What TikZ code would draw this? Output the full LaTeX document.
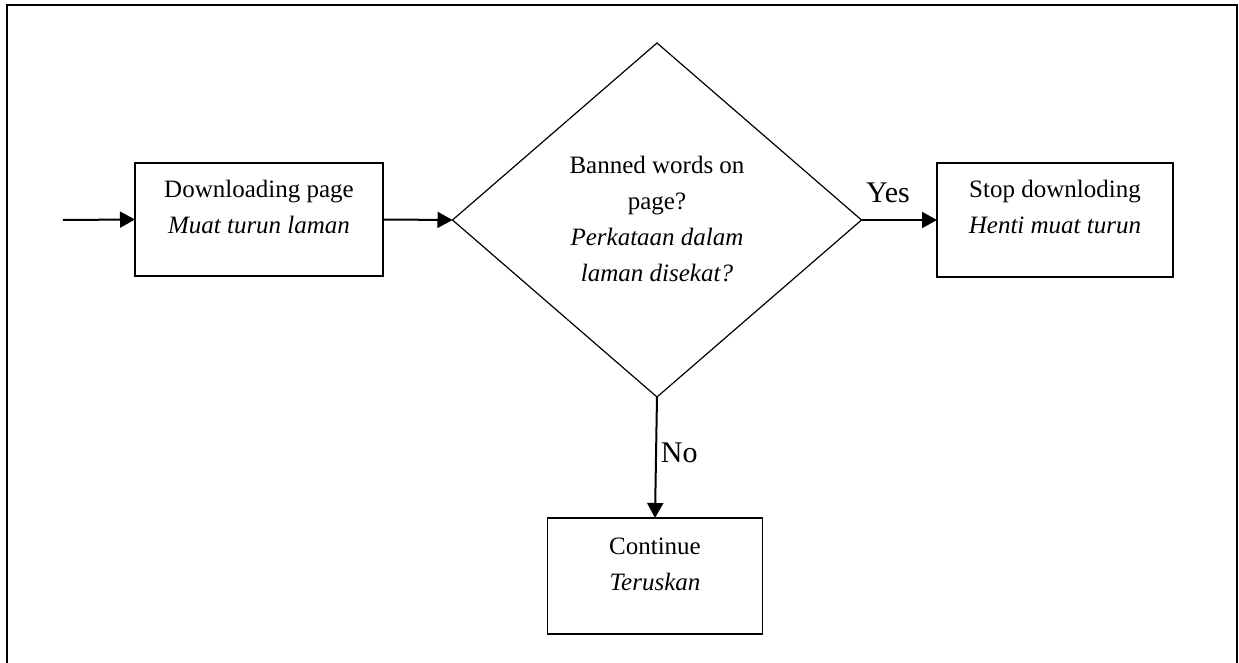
\documentclass[tikz,border=0pt]{standalone}
\usepackage{fontspec}
\setmainfont{Liberation Serif}
\usetikzlibrary{shapes.geometric,arrows.meta}
\begin{document}
\begin{tikzpicture}[x=0.5pt,y=-0.5pt,
  box/.style={draw,line width=0.75pt,rectangle,inner sep=0pt,outer sep=0pt},
  dia/.style={draw,line width=0.6pt,diamond,inner sep=0pt,outer sep=0pt},
  txt/.style={anchor=north,inner sep=0pt,align=center,font=\fontsize{12.5pt}{18pt}\selectfont},
  lbl/.style={inner sep=0pt,font=\fontsize{15pt}{18pt}\selectfont},
  arr/.style={line width=1pt,-{Triangle[length=7.5pt,width=8pt]}}]
\useasboundingbox (0,0) rectangle (1239,663);
% outer frame
\draw[line width=1pt] (7,670) -- (7,5) -- (1237,5) -- (1237,670);
% shapes
\node[box,minimum width=124pt,minimum height=56.5pt] (dl) at (259,219.5) {};
\node[dia,minimum width=204.5pt,minimum height=177pt] (q) at (657,220) {};
\node[box,minimum width=118pt,minimum height=57pt] (stop) at (1055,220) {};
\node[box,minimum width=107.5pt,minimum height=58pt] (cont) at (655,576) {};
% texts
\node[txt] (dlt) at (259,171.8) {\strut Downloading page\\\strut\textit{Muat turun laman}};
\node[txt] (qt) at (657,147.8) {\strut Banned words on\\\strut page?\\\strut\textit{Perkataan dalam}\\\strut\textit{laman disekat?}};
\node[txt] (stopt) at (1055,171.8) {\strut Stop downloding\\\strut\textit{Henti muat turun}};
\node[txt] (contt) at (655,528.8) {\strut Continue\\\strut\textit{Teruskan}};
% connectors
\coordinate (in) at (63,220);
\draw[arr] (in) -- (dl.west);
\draw[arr] (dl.east) -- (q.west);
\draw[arr] (q.east) -- node[lbl,pos=0.35,anchor=base,yshift=8.5pt] {Yes} (stop.west);
\draw[arr] (q.south) -- node[lbl,pos=0.545,anchor=base west,xshift=2pt,yshift=0pt] {No} (cont.north);
\end{tikzpicture}
\end{document}
